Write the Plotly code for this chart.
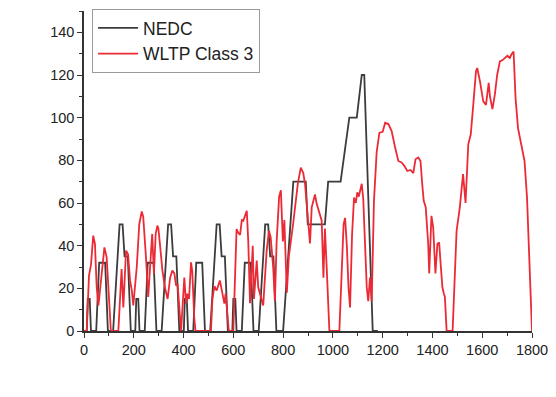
import plotly.graph_objects as go

# NEDC driving cycle (time s, speed km/h)
nedc_t = [0, 11, 15, 23, 28, 49, 61, 85, 96, 117, 143, 155, 163, 176, 188,
          195, 206, 210, 218, 223, 244, 256, 280, 291, 312, 338, 350, 358, 371, 383,
          390, 401, 405, 413, 418, 439, 451, 475, 486, 507, 533, 545, 553, 566, 578,
          585, 596, 600, 608, 613, 634, 646, 670, 681, 702, 728, 740, 748, 761, 773,
          800, 841, 891, 899, 968, 981, 1031, 1066, 1096, 1116, 1126, 1160, 1180]
nedc_v = [0, 0, 15, 15, 0, 0, 32, 32, 0, 0, 50, 50, 35, 35, 0,
          0, 0, 15, 15, 0, 0, 32, 32, 0, 0, 50, 50, 35, 35, 0,
          0, 0, 15, 15, 0, 0, 32, 32, 0, 0, 50, 50, 35, 35, 0,
          0, 0, 15, 15, 0, 0, 32, 32, 0, 0, 50, 50, 35, 35, 0,
          0, 70, 70, 50, 50, 70, 70, 100, 100, 120, 120, 0, 0]

# WLTP Class 3 driving cycle (time s, speed km/h)
wltp_t = [0, 11, 13, 20, 28, 37, 44, 51, 58, 64, 74, 82, 91, 102, 108,
          138, 147, 151, 158, 165, 169, 177, 185, 192, 198, 212, 222, 232, 238, 249,
          258, 268, 274, 281, 288, 295, 299, 305, 315, 325, 336, 346, 355, 363, 370,
          376, 383, 390, 403, 410, 415, 422, 430, 435, 443, 448, 510, 516, 524, 533,
          546, 556, 564, 569, 577, 582, 600, 613, 620, 627, 634, 640, 654, 660, 667,
          678, 683, 694, 700, 714, 720, 734, 743, 750, 760, 767, 774, 784, 791, 799,
          805, 815, 823, 840, 859, 871, 881, 888, 901, 908, 915, 928, 935, 945, 955,
          962, 968, 975, 986, 1026, 1035, 1043, 1049, 1056, 1063, 1069, 1077, 1085, 1092, 1098,
          1104, 1110, 1116, 1122, 1129, 1136, 1142, 1149, 1156, 1165, 1176, 1187, 1200, 1210, 1223,
          1236, 1250, 1263, 1276, 1287, 1299, 1312, 1323, 1332, 1343, 1352, 1359, 1365, 1373, 1383,
          1387, 1396, 1403, 1412, 1420, 1427, 1432, 1440, 1446, 1450, 1457, 1481, 1497, 1510, 1523,
          1533, 1544, 1554, 1564, 1575, 1580, 1591, 1604, 1615, 1626, 1631, 1641, 1651, 1660, 1671,
          1682, 1691, 1701, 1711, 1717, 1726, 1734, 1744, 1757, 1770, 1780, 1797, 1800]
wltp_v = [0, 0, 6, 26, 31, 44.7, 40.8, 20.5, 12, 19, 30, 39.2, 34.6, 14, 0,
          0, 20.5, 29, 11, 28, 37.7, 36, 23.7, 19, 12, 30, 50, 56, 53.5, 34.6,
          16, 34.6, 45.5, 26.8, 45.5, 49.4, 48, 40.8, 28.4, 20.5, 15, 25, 28.4, 27, 21.3,
          22, 11, 0, 25, 12.8, 17.5, 15, 32.2, 28, 6, 0, 0, 15, 21, 19,
          23.7, 17.5, 12.8, 17.5, 6, 0, 0, 47.8, 46, 45, 52, 51.7, 56.4, 42, 13,
          40, 15, 33, 20.5, 15, 12, 37.7, 47, 44, 30, 14, 42, 63, 66, 42,
          52, 18, 35, 50, 69, 76.6, 74, 69, 53, 41, 58, 64, 59.6, 55, 51.7,
          25, 48, 30, 0, 0, 30, 50, 53, 40, 20, 11, 45, 62.6, 60, 65,
          63, 66, 69, 62, 42, 20.5, 14, 25, 14, 61, 84, 93, 93.4, 97.6, 97,
          93.7, 86, 79.7, 79, 77.4, 75, 75.5, 74, 80.5, 81.3, 79.7, 68.8, 61, 58, 40.8,
          27, 54, 48.6, 27, 40.8, 41.5, 33, 20.5, 17.5, 16, 0, 0, 47, 58, 73.5,
          60, 87.5, 92.2, 106, 121.8, 123.3, 117, 107.7, 106, 116.3, 110, 104, 111, 120, 126.4,
          127, 128, 129, 128, 129.6, 131, 109, 95, 87.5, 79.7, 62.6, 0, 0]

x_ticks = [0, 200, 400, 600, 800, 1000, 1200, 1400, 1600, 1800]
y_ticks = [0, 20, 40, 60, 80, 100, 120, 140]

fig = go.Figure()
fig.add_trace(go.Scatter(x=nedc_t, y=nedc_v, mode="lines", name="NEDC",
                         line=dict(color="#3c3c3c", width=1.8)))
fig.add_trace(go.Scatter(x=wltp_t, y=wltp_v, mode="lines", name="WLTP Class 3",
                         line=dict(color="#ec2a36", width=1.8)))

axis_common = dict(
    showgrid=False, zeroline=False, showline=True, linecolor="#333333", linewidth=1.5,
    ticks="outside", ticklen=5, tickwidth=1.2, tickcolor="#333333",
    tickfont=dict(family="Liberation Sans, Arial, sans-serif", size=14.5, color="#222222"),
)
fig.update_xaxes(range=[0, 1800], tickvals=x_ticks,
                 minor=dict(dtick=100, ticks="outside", ticklen=3, tickcolor="#333333"),
                 **axis_common)
fig.update_yaxes(range=[0, 150], tickvals=y_ticks,
                 minor=dict(dtick=10, ticks="outside", ticklen=3, tickcolor="#333333"),
                 **axis_common)

fig.update_layout(
    width=556, height=397,
    margin=dict(l=76, r=32, t=2, b=74),
    paper_bgcolor="white", plot_bgcolor="white",
    font=dict(family="Liberation Sans, Arial, sans-serif", color="#222222"),
    legend=dict(x=0.018, y=1.003, xanchor="left", yanchor="top",
                bgcolor="white", bordercolor="#9a9a9a", borderwidth=1,
                font=dict(size=17.5, color="#222222"), tracegroupgap=0,
                itemwidth=40),
    showlegend=True,
)

fig.write_html("out.html")
